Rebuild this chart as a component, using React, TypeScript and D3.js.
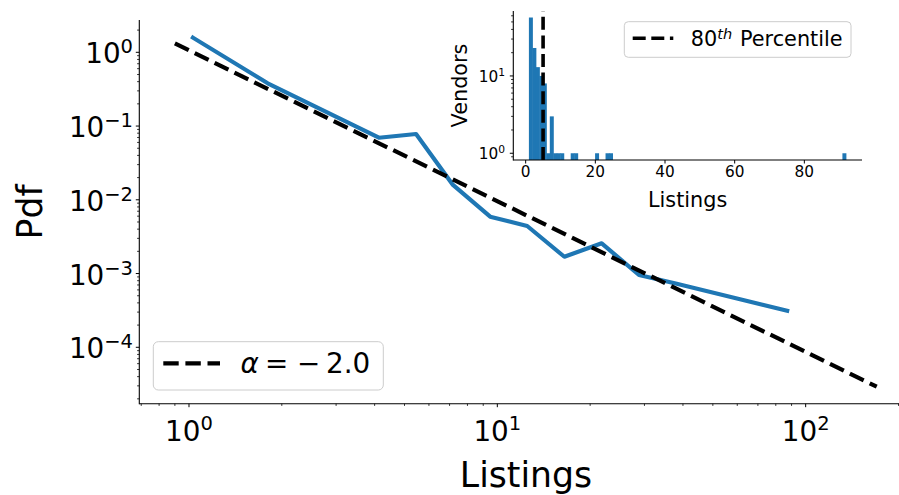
import React from 'react';
import * as d3 from 'd3';

// ---- data ----
const pdfListings = [1.03, 1.8, 4.13, 5.45, 7.18, 9.48, 12.5, 16.5, 21.8, 28.8, 37.9, 87.1];
const pdfValues = [1.58, 0.38, 0.0695, 0.078, 0.0159, 0.0059, 0.00441, 0.00169, 0.00257, 0.000955, 0.000733, 0.000313];
const fitListings = [0.9, 170];
const fitValues = [1.32, 2.92e-5];
const fitLabelAlpha = '2.0';
const histBinStarts = [1, 2, 3, 4, 5, 6, 7, 8, 9, 10, 13, 14, 20, 23, 24, 91];
const histCounts = [57, 23, 13, 10, 8, 1, 3, 1, 1, 1, 1, 1, 1, 1, 1, 1];
const histBinWidth = 1;
const percentile80 = 5;
const mainXTicks = [1, 10, 100];
const mainYTicks = [1, 0.1, 0.01, 0.001, 0.0001];
const insetXTicks = [0, 20, 40, 60, 80];
const insetYTicks = [1, 10];

const FONT = 'DejaVu Sans';
const BLUE = '#1f77b4';

function minorLogTicks(domain: number[]) {
  const out: number[] = [];
  const lo = Math.floor(Math.log10(domain[0]));
  const hi = Math.ceil(Math.log10(domain[1]));
  for (let d = lo; d <= hi; d++) {
    for (let k = 2; k <= 9; k++) {
      const v = k * Math.pow(10, d);
      if (v >= domain[0] && v <= domain[1]) out.push(v);
    }
  }
  return out;
}

function expLabel(v: number) {
  const e = Math.round(Math.log10(v));
  return e < 0 ? '\u2212' + -e : String(e);
}

function Pow10(props: any) {
  const { x, y, v, anchor, size, supSize, raise } = props;
  return (
    <text x={x} y={y} textAnchor={anchor} fontSize={size} fontFamily={FONT} fill="#000">
      10
      <tspan dy={-raise} fontSize={supSize}>{expLabel(v)}</tspan>
    </text>
  );
}

export default function App() {
  const W = 899, H = 495;
  const xMain = d3.scaleLog().domain([0.69, 224.4]).range([139.3, 913.9]);
  const yMain = d3.scaleLog().domain([1.718e-5, 2.742]).range([403.7, 20]);
  const xIn = d3.scaleLinear().domain([-3.55, 96.55]).range([513.3, 862]);
  const yIn = d3.scaleLog().domain([0.818, 69.2]).range([160, 11]);

  const pdfPts: [number, number][] = pdfListings.map((x, i) => [x, pdfValues[i]]);
  const fitPts: [number, number][] = fitListings.map((x, i) => [x, fitValues[i]]);
  const line = d3.line<[number, number]>().x(d => xMain(d[0])).y(d => yMain(d[1]));

  const mxMinor = minorLogTicks(xMain.domain() as number[]);
  const myMinor = minorLogTicks(yMain.domain() as number[]);
  const iyMinor = minorLogTicks(yIn.domain() as number[]);

  const [mx0, mx1] = xMain.range();
  const [my0, my1] = yMain.range();
  const [ix0, ix1] = xIn.range();
  const [iy0, iy1] = yIn.range();

  const dash = '15.4 6.7';

  return (
    <svg width={W} height={H} style={{ position: 'fixed', left: 0, top: 0, display: 'block', background: '#fff' }}>
      <rect x={0} y={0} width={W} height={H} fill="#fff" />
      {/* main axes */}
      <defs>
        <clipPath id="mainClip">
          <rect x={mx0} y={my1} width={mx1 - mx0} height={my0 - my1} />
        </clipPath>
      </defs>
      <g clipPath="url(#mainClip)">
        <path d={line(pdfPts) || ''} fill="none" stroke={BLUE} strokeWidth={4.17} strokeLinejoin="round" strokeLinecap="square" />
        <path d={line(fitPts) || ''} fill="none" stroke="#000" strokeWidth={4.17} strokeDasharray={dash} />
      </g>
      {/* main spines */}
      <line x1={mx0} x2={mx0} y1={my1} y2={my0 + 0.5} stroke="#000" strokeWidth={1.1} />
      <line x1={mx0} x2={W} y1={my0} y2={my0} stroke="#000" strokeWidth={1.1} />
      {/* main x ticks */}
      {mxMinor.map((v, i) => (
        <line key={'mxm' + i} x1={xMain(v)} x2={xMain(v)} y1={my0} y2={my0 + 2.2} stroke="#000" strokeWidth={0.8} />
      ))}
      {mainXTicks.map((v, i) => (
        <g key={'mx' + i}>
          <line x1={xMain(v)} x2={xMain(v)} y1={my0} y2={my0 + 3.5} stroke="#000" strokeWidth={1} />
          <Pow10 x={xMain(v)} y={440.7} v={v} anchor="middle" size={27.8} supSize={19.5} raise={11} />
        </g>
      ))}
      {/* main y ticks */}
      {myMinor.map((v, i) => (
        <line key={'mym' + i} x1={mx0} x2={mx0 - 2.2} y1={yMain(v)} y2={yMain(v)} stroke="#000" strokeWidth={0.8} />
      ))}
      {mainYTicks.map((v, i) => (
        <g key={'my' + i}>
          <line x1={mx0} x2={mx0 - 3.5} y1={yMain(v)} y2={yMain(v)} stroke="#000" strokeWidth={1} />
          <Pow10 x={133} y={yMain(v) + 11} v={v} anchor="end" size={27.8} supSize={19.5} raise={10} />
        </g>
      ))}
      {/* main axis titles */}
      <text x={526} y={487.3} textAnchor="middle" fontSize={34.7} fontFamily={FONT} fill="#000">Listings</text>
      <text transform={`translate(41.7,${(my0 + my1) / 2}) rotate(-90)`} textAnchor="middle" fontSize={34.7} fontFamily={FONT} fill="#000">Pdf</text>
      {/* main legend */}
      <rect x={153.3} y={341.7} width={230} height={48.3} rx={5} fill="#fff" fillOpacity={0.8} stroke="#cccccc" strokeWidth={1} />
      <line x1={163.3} x2={220} y1={363.3} y2={363.3} stroke="#000" strokeWidth={4.17} strokeDasharray={dash} />
      <text y={373.3} fontSize={27.8} fontFamily={FONT} fill="#000">
        <tspan x={240.5} fontStyle="italic">α</tspan>
        <tspan x={265}>=</tspan>
        <tspan x={297}>{'\u2212'}</tspan>
        <tspan x={326}>{fitLabelAlpha}</tspan>
      </text>

      {/* inset axes */}
      <rect x={ix0} y={iy1} width={ix1 - ix0} height={iy0 - iy1} fill="#fff" />
      {histBinStarts.map((s, i) => {
        const x0 = xIn(s), x1 = xIn(s + histBinWidth);
        const yTop = yIn(histCounts[i]);
        return <rect key={'b' + i} x={x0 - 0.25} y={yTop} width={x1 - x0 + 0.5} height={iy0 - yTop} fill={BLUE} />;
      })}
      <line x1={xIn(percentile80)} x2={xIn(percentile80)} y1={iy0} y2={iy1} stroke="#000" strokeWidth={3.6} strokeDasharray="13 5.6" />
      <line x1={ix0} x2={ix0} y1={iy1} y2={iy0 + 0.5} stroke="#000" strokeWidth={1.1} />
      <line x1={ix0} x2={ix1} y1={iy0} y2={iy0} stroke="#000" strokeWidth={1.1} />
      {insetXTicks.map((v, i) => (
        <g key={'ix' + i}>
          <line x1={xIn(v)} x2={xIn(v)} y1={iy0} y2={iy0 + 3.5} stroke="#000" strokeWidth={1} />
          <text x={xIn(v)} y={176.7} textAnchor="middle" fontSize={15.3} fontFamily={FONT} fill="#000">{v}</text>
        </g>
      ))}
      {iyMinor.map((v, i) => (
        <line key={'iym' + i} x1={ix0} x2={ix0 - 2.2} y1={yIn(v)} y2={yIn(v)} stroke="#000" strokeWidth={0.8} />
      ))}
      {insetYTicks.map((v, i) => (
        <g key={'iy' + i}>
          <line x1={ix0} x2={ix0 - 3.5} y1={yIn(v)} y2={yIn(v)} stroke="#000" strokeWidth={1} />
          <Pow10 x={505} y={yIn(v) + 5.6} v={v} anchor="end" size={15.3} supSize={10.7} raise={6} />
        </g>
      ))}
      <text x={(ix0 + ix1) / 2} y={207.3} textAnchor="middle" fontSize={20.8} fontFamily={FONT} fill="#000">Listings</text>
      <text transform={`translate(466.7,${(iy0 + iy1) / 2}) rotate(-90)`} textAnchor="middle" fontSize={20.8} fontFamily={FONT} fill="#000">Vendors</text>
      {/* inset legend */}
      <rect x={624.3} y={21.7} width={226.7} height={35.6} rx={4} fill="#fff" fillOpacity={0.8} stroke="#cccccc" strokeWidth={1} />
      <line x1={632.7} x2={673.3} y1={38.3} y2={38.3} stroke="#000" strokeWidth={3.6} strokeDasharray="13 5.6" />
      <text y={45.7} fontSize={20.8} fontFamily={FONT} fill="#000">
        <tspan x={690.7}>80</tspan>
        <tspan dy={-7} fontSize={14.6} fontStyle="italic">th</tspan>
        <tspan x={740} dy={7}>Percentile</tspan>
      </text>
    </svg>
  );
}
